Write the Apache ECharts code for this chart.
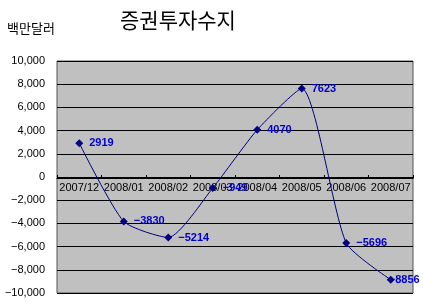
<!DOCTYPE html>
<html><head><meta charset="utf-8">
<script src="https://cdn.jsdelivr.net/npm/echarts@6/dist/echarts.min.js"></script>
<style>html,body{margin:0;padding:0;background:#fff}#c{width:423px;height:306px}</style>
</head><body><div id="c"></div>
<script>
const categories = ['2007/12','2008/01','2008/02','2008/03','2008/04','2008/05','2008/06','2008/07'];
const values = [2919, -3830, -5214, -949, 4070, 7623, -5696, -8856];
const title = '증권투자수지';
const unit = '백만달러';

const chart = echarts.init(document.getElementById('c'), null, {renderer:'canvas'});
function fmt(v){
  const s = Math.abs(v).toLocaleString('en-US');
  return v < 0 ? '\u2212' + s : s;
}
const seriesData = values.map((v,i)=> i===values.length-1 ? {value:v,label:{offset:[-12,0]}} : v);
chart.setOption({
  animation:false,
  backgroundColor:'#fff',
  title:{text:title,left:115,top:5,textStyle:{fontFamily:'Noto Sans CJK KR',fontSize:21,fontWeight:'normal',color:'#000'}},
  graphic:[{type:'text',left:7,top:22,style:{text:unit,font:'13px "Noto Sans CJK KR"',fill:'#000'}}],
  grid:{left:57,right:10,top:61,bottom:13,show:true,backgroundColor:'#c0c0c0',borderColor:'#555',borderWidth:1},
  xAxis:{type:'category',data:categories,boundaryGap:true,offset:0,
    axisLine:{onZero:false,lineStyle:{color:'#000',width:1}},
    axisTick:{show:true,inside:true,length:3,lineStyle:{color:'#000'}},
    axisLabel:{color:'#000',fontFamily:'Liberation Sans',fontSize:11,margin:4,interval:0},
    splitLine:{show:false}},
  yAxis:{type:'value',min:-10000,max:10000,interval:2000,
    axisLine:{show:false},axisTick:{show:false},
    axisLabel:{color:'#000',fontFamily:'Liberation Sans',fontSize:11,margin:12,formatter:fmt},
    splitLine:{show:true,lineStyle:{color:'#000',width:1}}},
  series:[{type:'line',data:seriesData,smooth:0.2,symbol:'diamond',symbolSize:8,
    lineStyle:{color:'#000080',width:1},itemStyle:{color:'#000080'},
    label:{show:true,position:'right',distance:6,color:'#0000cc',fontWeight:'bold',fontFamily:'Liberation Sans',fontSize:11,
      formatter:p=>p.value<0?'\u2212'+Math.abs(p.value):String(p.value)}}]
});
// place the category axis on the zero line using the value axis scale
const zeroY = chart.convertToPixel({yAxisIndex:0}, 0);
const bottomY = chart.convertToPixel({yAxisIndex:0}, -10000);
chart.setOption({xAxis:{offset:-(bottomY - zeroY)}});
</script></body></html>
